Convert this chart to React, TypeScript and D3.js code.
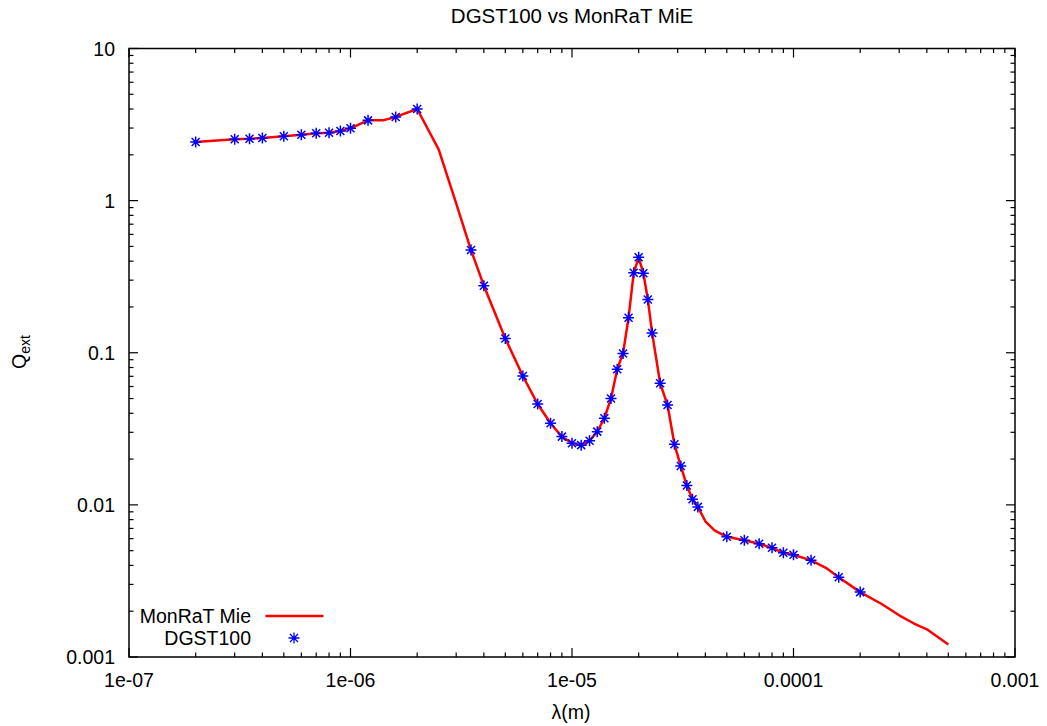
import React from "react";
import * as d3 from "d3";

// DGST100 sample points (wavelength in m, Q_ext)
const starLambda = [
  2e-7, 3e-7, 3.5e-7, 4e-7, 5e-7, 6e-7, 7e-7, 8e-7, 9e-7, 1e-6, 1.2e-6, 1.6e-6, 2e-6,
  3.5e-6, 4e-6, 5e-6, 6e-6, 7e-6, 8e-6, 9e-6, 1e-5, 1.1e-5, 1.2e-5, 1.3e-5, 1.4e-5,
  1.5e-5, 1.6e-5, 1.7e-5, 1.8e-5, 1.9e-5, 2e-5, 2.1e-5, 2.2e-5, 2.3e-5, 2.5e-5, 2.7e-5,
  2.9e-5, 3.1e-5, 3.3e-5, 3.5e-5, 3.7e-5, 5e-5, 6e-5, 7e-5, 8e-5, 9e-5, 1e-4, 1.2e-4,
  1.6e-4, 2e-4,
];
const starQ = [
  2.43, 2.53, 2.55, 2.58, 2.65, 2.71, 2.77, 2.79, 2.87, 2.99, 3.37, 3.55, 4.0,
  0.473, 0.276, 0.124, 0.0703, 0.046, 0.0344, 0.0281, 0.0254, 0.0247, 0.0264, 0.0303, 0.0371,
  0.0501, 0.078, 0.099, 0.17, 0.336, 0.424, 0.333, 0.224, 0.135, 0.063, 0.0453,
  0.025, 0.018, 0.0134, 0.0109, 0.0097, 0.00617, 0.00586, 0.00555, 0.00522, 0.00484, 0.0047, 0.00432,
  0.00334, 0.00267,
];

// MonRaT Mie curve
const lineLambda = [
  2e-7, 3e-7, 3.5e-7, 4e-7, 5e-7, 6e-7, 7e-7, 8e-7, 9e-7, 1e-6, 1.2e-6, 1.4e-6, 1.6e-6, 2e-6,
  2.5e-6, 3e-6, 3.5e-6, 4e-6, 5e-6, 6e-6, 7e-6, 8e-6, 9e-6, 1e-5, 1.1e-5, 1.2e-5, 1.3e-5,
  1.4e-5, 1.5e-5, 1.6e-5, 1.7e-5, 1.8e-5, 1.9e-5, 2e-5, 2.1e-5, 2.2e-5, 2.3e-5, 2.5e-5, 2.7e-5,
  2.9e-5, 3.1e-5, 3.3e-5, 3.5e-5, 3.7e-5, 4e-5, 4.4e-5, 5e-5, 6e-5, 7e-5, 8e-5, 9e-5, 1e-4,
  1.2e-4, 1.4e-4, 1.6e-4, 2e-4, 2.5e-4, 3e-4, 3.5e-4, 4e-4, 5e-4,
];
const lineQ = [
  2.43, 2.53, 2.55, 2.58, 2.65, 2.71, 2.77, 2.79, 2.87, 2.99, 3.37, 3.37, 3.55, 4.0,
  2.17, 0.96, 0.473, 0.276, 0.124, 0.0703, 0.046, 0.0344, 0.0281, 0.0254, 0.0247, 0.0264, 0.0303,
  0.0371, 0.0501, 0.078, 0.099, 0.17, 0.336, 0.424, 0.333, 0.224, 0.135, 0.063, 0.0453,
  0.025, 0.018, 0.0134, 0.0109, 0.0097, 0.0078, 0.0068, 0.00617, 0.00586, 0.00555, 0.00522, 0.00484, 0.0047,
  0.00432, 0.00386, 0.00334, 0.00267, 0.00223, 0.00188, 0.00166, 0.00152, 0.00121,
];

const xTickValues = [1e-7, 1e-6, 1e-5, 1e-4, 1e-3];
const xTickLabels = ["1e-07", "1e-06", "1e-05", "0.0001", "0.001"];
const yTickValues = [0.001, 0.01, 0.1, 1, 10];
const yTickLabels = ["0.001", "0.01", "0.1", "1", "10"];

const W = 1047;
const H = 726;
const L = 129;
const R = 1015;
const T = 48.5;
const B = 657;
const FONT = "'Liberation Sans', Arial, Helvetica, sans-serif";

function minorTicks(decades: number[]) {
  const out: number[] = [];
  for (let i = 0; i < decades.length - 1; i++) {
    for (let k = 2; k <= 9; k++) out.push(decades[i] * k);
  }
  return out;
}

const starPath = "M-5.5,0H5.5M0,-5.5V5.5M-4,-4L4,4M-4,4L4,-4";

export default function App() {
  const x = d3.scaleLog().domain([1e-7, 1e-3]).range([L, R]);
  const y = d3.scaleLog().domain([0.001, 10]).range([B, T]);

  const line = d3
    .line<number>()
    .x((_, i) => x(lineLambda[i]))
    .y((d) => y(d));
  const linePath = line(lineQ) || "";

  const xMinor = minorTicks(xTickValues);
  const yMinor = minorTicks(yTickValues);
  const major = 9;
  const minor = 4.5;

  return (
    <svg
      width={W}
      height={H}
      style={{ position: "absolute", left: 0, top: 0, background: "#fff" }}
      fontFamily={FONT}
    >
      <rect x={0} y={0} width={W} height={H} fill="#fff" />
      {/* ticks */}
      <g stroke="#000" strokeWidth={1.2}>
        {xTickValues.map((v) => (
          <g key={"xM" + v}>
            <line x1={x(v)} x2={x(v)} y1={B} y2={B - major} />
            <line x1={x(v)} x2={x(v)} y1={T} y2={T + major} />
          </g>
        ))}
        {xMinor.map((v) => (
          <g key={"xm" + v}>
            <line x1={x(v)} x2={x(v)} y1={B} y2={B - minor} />
            <line x1={x(v)} x2={x(v)} y1={T} y2={T + minor} />
          </g>
        ))}
        {yTickValues.map((v) => (
          <g key={"yM" + v}>
            <line x1={L} x2={L + major} y1={y(v)} y2={y(v)} />
            <line x1={R} x2={R - major} y1={y(v)} y2={y(v)} />
          </g>
        ))}
        {yMinor.map((v) => (
          <g key={"ym" + v}>
            <line x1={L} x2={L + minor} y1={y(v)} y2={y(v)} />
            <line x1={R} x2={R - minor} y1={y(v)} y2={y(v)} />
          </g>
        ))}
      </g>
      {/* tick labels */}
      <g fontSize={19.5} fill="#000">
        {xTickValues.map((v, i) => (
          <text key={"xl" + v} x={x(v)} y={686.5} textAnchor="middle">
            {xTickLabels[i]}
          </text>
        ))}
        {yTickValues.map((v, i) => (
          <text key={"yl" + v} x={115} y={y(v) + 7} textAnchor="end">
            {yTickLabels[i]}
          </text>
        ))}
      </g>
      {/* data */}
      <path d={linePath} fill="none" stroke="#ff0000" strokeWidth={2.5} strokeLinejoin="round" />
      <g stroke="#0000ff" strokeWidth={1.5} fill="none">
        {starLambda.map((l, i) => (
          <path key={"s" + i} d={starPath} transform={`translate(${x(l)},${y(starQ[i])})`} />
        ))}
      </g>
      {/* frame */}
      <rect x={L} y={T} width={R - L} height={B - T} fill="none" stroke="#000" strokeWidth={1.5} />
      {/* legend */}
      <g fontSize={19.5} fill="#000">
        <text x={251} y={622.5} textAnchor="end">MonRaT Mie</text>
        <line x1={265.5} x2={323.5} y1={616} y2={616} stroke="#ff0000" strokeWidth={2.5} />
        <text x={251} y={645} textAnchor="end">DGST100</text>
        <path d={starPath} transform="translate(294,638)" stroke="#0000ff" strokeWidth={1.3} fill="none" />
      </g>
      {/* title & axis labels */}
      <text x={572} y={22.7} textAnchor="middle" fontSize={20.5}>
        DGST100 vs MonRaT MiE
      </text>
      <text x={571} y={719} textAnchor="middle" fontSize={19.5}>
        λ(m)
      </text>
      <text transform="translate(26,352) rotate(-90)" textAnchor="middle" fontSize={19.5}>
        Q<tspan fontSize={14} dy={4}>ext</tspan>
      </text>
    </svg>
  );
}
